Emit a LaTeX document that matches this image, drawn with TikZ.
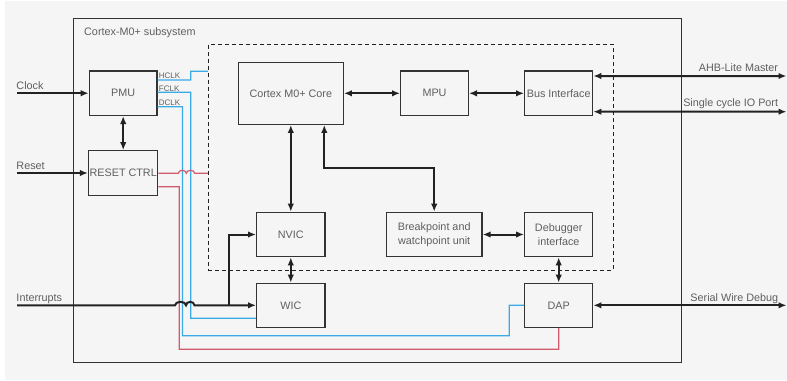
\documentclass[tikz,border=0pt]{standalone}
\usepackage{fontspec}
\setmainfont{Liberation Sans}
\usetikzlibrary{arrows.meta}
\definecolor{bg}{RGB}{245,245,245}
\definecolor{txt}{RGB}{95,95,95}
\definecolor{ln}{RGB}{34,34,34}
\definecolor{bx}{RGB}{51,51,51}
\definecolor{blu}{RGB}{58,170,230}
\definecolor{rd}{RGB}{210,90,110}
\begin{document}
\begin{tikzpicture}[x=1bp,y=-1bp,
  every node/.style={text=txt, font=\fontsize{10.8bp}{14.3bp}\selectfont},
  blk/.style={draw=bx, line width=1.3bp, fill=bg, minimum width=#1, minimum height=44.4bp, inner sep=1bp, align=center},
  blk/.default=67.7bp,
  arr/.style={draw=ln, line width=2bp, -{Latex[length=8bp,width=6.5bp]}},
  biarr/.style={draw=ln, line width=2bp, {Latex[length=8bp,width=6.5bp]}-{Latex[length=8bp,width=6.5bp]}},
  wire/.style={line width=1.2bp},
  lbl/.style={anchor=base west, inner sep=0pt},
  rlbl/.style={anchor=base east, inner sep=0pt},
  small/.style={font=\fontsize{8bp}{9bp}\selectfont}]
\useasboundingbox (0,0) rectangle (787,380);
\fill[white] (0,0) rectangle (787,380);
\fill[bg] (5,1) rectangle (787,380);

% containers
\node[draw=bx, line width=1.3bp, minimum width=608.4bp, minimum height=344.4bp, inner sep=0pt] (subsys) at (377.5,190.5) {};
\node[lbl] (title) at (84,35.7) {Cortex-M0+ subsystem};
\node[draw=ln, line width=1bp, dash pattern=on 4bp off 3bp, minimum width=405bp, minimum height=225.7bp, inner sep=0pt] (cpu) at (410.8,157.15) {};

% blocks
\node[blk] (pmu) at (123.2,93.2) {PMU};
\node[blk] (rst) at (123.2,173) {RESET CTRL};
\node[blk=105bp, minimum height=62bp] (core) at (290.8,93.3) {Cortex M0+ Core};
\node[blk] (mpu) at (434.5,93.3) {MPU};
\node[blk=68bp] (bus) at (558.7,93.3) {Bus Interface};
\node[blk=68.3bp] (nvic) at (290.8,234.5) {NVIC};
\node[blk=68.3bp, minimum height=44bp] (wic) at (290.8,305.3) {WIC};
\node[blk=95.7bp] (bp) at (434.2,234.5) {Breakpoint and\\watchpoint unit};
\node[blk=68bp] (dbg) at (558.7,234.5) {Debugger\\interface};
\node[blk=68bp, minimum height=44bp] (dap) at (558.7,305.3) {DAP};

% clock wires
\draw[wire, blu] ([yshift=13.2bp]pmu.east) -- (190.7,80) |- ([yshift=-27.4bp]cpu.north west);
\draw[wire, blu] ([yshift=0.9bp]pmu.east) -- (190.7,92.3) |- ([yshift=-13bp]wic.west);
\draw[wire, blu] ([yshift=-13.5bp]pmu.east) -- (182.5,106.7) |- (509.3,335.7) |- (dap.west);
\node[lbl, small] (hclk) at (158.7,78.3) {HCLK};
\node[lbl, small] (fclk) at (158.7,91.1) {FCLK};
\node[lbl, small] (dclk) at (158.7,105.1) {DCLK};

% reset wires
\draw[wire, rd] (rst.east |- 0,173.3) -- (178.3,173.3)
  arc[start angle=180, end angle=0, x radius=4bp, y radius=3bp]
  arc[start angle=180, end angle=0, x radius=4.2bp, y radius=3bp]
  -- (cpu.west |- 0,173.3);
\draw[wire, rd] ([yshift=-13.7bp]rst.east) -- (179.3,186.7) |- (558.7,349.3) -- (dap.south);

% external inputs
\coordinate (clk) at (17,93.2);
\coordinate (rstin) at (17,173);
\coordinate (irq) at (17,305.3);
\node[lbl] (clklbl) at (16.3,89.3) {Clock};
\node[lbl] (rstlbl) at (16.3,169) {Reset};
\node[lbl] (irqlbl) at (16.3,301) {Interrupts};
\draw[arr] (clk) -- (pmu.west);
\draw[arr] (rstin) -- (rst.west);
\draw[arr] (irq) -- (175,305.3)
  arc[start angle=180, end angle=0, x radius=5.5bp, y radius=3.5bp]
  arc[start angle=180, end angle=0, x radius=4.2bp, y radius=3.5bp]
  -- (wic.west);
\coordinate (br) at (229.3,305.3);
\draw[arr] (br) |- (nvic.west);

% internal connections
\draw[biarr] (pmu.south) -- (rst.north);
\draw[biarr] (core.east) -- (mpu.west);
\draw[biarr] (mpu.east) -- (bus.west);
\draw[biarr] (core.south) -- (nvic.north);
\draw[biarr] (nvic.south) -- (wic.north);
\draw[biarr] ([xshift=33.5bp]core.south) |- (434.2,168.3) -- (bp.north);
\draw[biarr] (bp.east) -- (dbg.west);
\draw[biarr] (dbg.south) -- (dap.north);

% external ports
\coordinate (ahb) at (786.5,76);
\coordinate (io) at (786.5,111.7);
\coordinate (swd) at (786.5,305.3);
\draw[biarr] ([yshift=17.3bp]bus.east) -- (ahb);
\draw[biarr] ([yshift=-18.4bp]bus.east) -- (io);
\draw[biarr] (dap.east) -- (swd);
\node[rlbl] (ahblbl) at (778.3,71) {AHB-Lite Master};
\node[rlbl] (iolbl) at (778.3,106.6) {Single cycle IO Port};
\node[rlbl] (swdlbl) at (778.3,301) {Serial Wire Debug};
\end{tikzpicture}
\end{document}
